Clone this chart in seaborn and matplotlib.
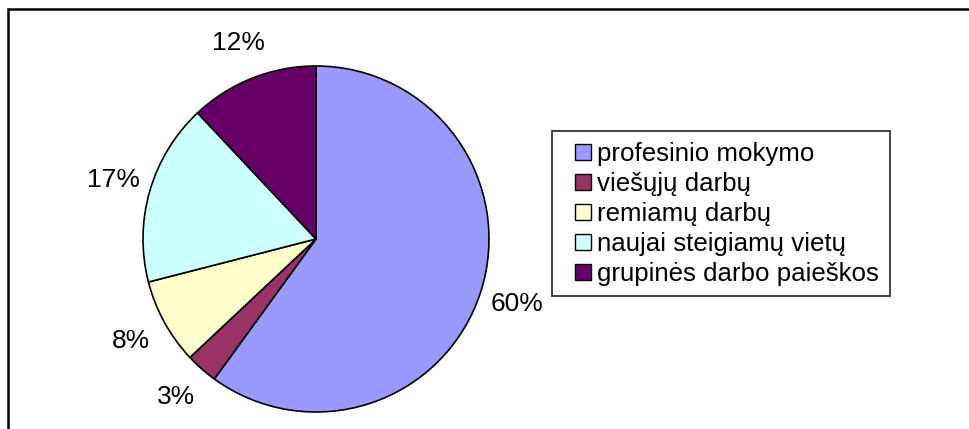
import matplotlib
matplotlib.use("Agg")
import matplotlib.pyplot as plt
import seaborn as sns
from matplotlib.patches import Rectangle
from matplotlib.legend_handler import HandlerPatch

categories = ["profesinio mokymo", "viešųjų darbų", "remiamų darbų",
              "naujai steigiamų vietų", "grupinės darbo paieškos"]
values = [60, 3, 8, 17, 12]
colors = ["#9999FF", "#993366", "#FFFFCC", "#CCFFFF", "#660066"]

sns.set_theme(style="white")
plt.rcParams['font.family'] = ['Liberation Sans', 'DejaVu Sans']
plt.rcParams['text.color'] = 'black'

fig = plt.figure(figsize=(9.70, 4.29), dpi=100)
fig.patch.set_facecolor("white")
ax = fig.add_axes([143/970, 17/429, 346/970, 346/429])
palette = sns.color_palette(colors)

wedges, texts, autotexts = ax.pie(
    values, colors=palette, startangle=90, counterclock=False,
    autopct=lambda p: f"{p:.0f}%", pctdistance=1.22, radius=1,
    wedgeprops=dict(edgecolor="black", linewidth=1.2),
    textprops=dict(fontsize=19, color="black"))
ax.set_xlim(-1, 1)
ax.set_ylim(-1, 1)
ax.set_aspect("equal")
ax.axis("off")


def square_patch(legend, orig_handle, xdescent, ydescent, width, height, fontsize):
    s = 0.62 * fontsize
    return Rectangle((-xdescent + width - s, -ydescent + (height - s) / 2), s, s)


leg = fig.legend(wedges, categories, loc="upper left",
                 bbox_to_anchor=(552/970, 1 - 131/429),
                 fontsize=18.6, frameon=True, fancybox=False, shadow=False,
                 handlelength=1.1, handleheight=0.7, handletextpad=0.22,
                 labelspacing=0.23, borderpad=0.42, borderaxespad=0,
                 labelcolor="black",
                 handler_map={w: HandlerPatch(patch_func=square_patch) for w in wedges})
leg.get_frame().set_edgecolor("black")
leg.get_frame().set_linewidth(1.3)
for h in leg.legend_handles:
    h.set_edgecolor("black")
    h.set_linewidth(1.0)

fig.patches.append(Rectangle((8/970, -0.2), 1.2, 1.2 - 9/429,
                             transform=fig.transFigure, fill=False,
                             edgecolor="black", linewidth=1.8, zorder=10))

fig.savefig("out.png", dpi=100)
